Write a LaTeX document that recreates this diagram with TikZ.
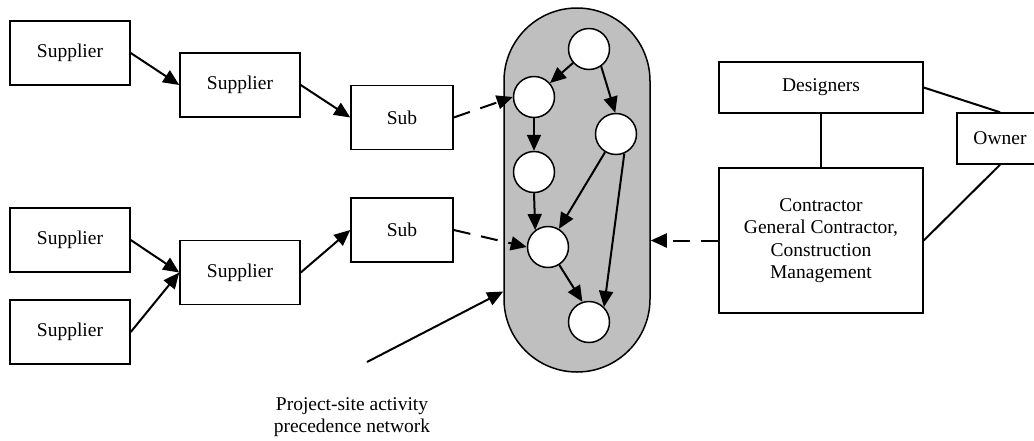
\documentclass[tikz,border=0pt]{standalone}
\usepackage{fontspec}
\setmainfont{Liberation Serif}
\usetikzlibrary{arrows.meta}

\begin{document}
\begin{tikzpicture}[x=1pt,y=-1pt,
  lbl/.style={font=\fontsize{19.5}{22.5}\selectfont, align=center},
  box/.style={lbl, draw, line width=1.5pt, inner sep=0pt},
  supbox/.style={box, minimum width=120pt, minimum height=64pt},
  subbox/.style={box, minimum width=102pt, minimum height=64pt},
  act/.style={circle, draw, fill=white, line width=1.5pt, minimum size=41pt, inner sep=0pt},
  arr/.style={line width=2pt, -{Triangle[length=16pt,width=14pt]}},
  darr/.style={arr, dash pattern=on 17pt off 11pt},
  link/.style={line width=2pt}
]
\useasboundingbox (0,0) rectangle (1034,440);

% supply chain boxes
\node[supbox] (s1) at (70,53) {Supplier};
\node[supbox] (s2) at (240,85) {Supplier};
\node[subbox] (sub1) at (402,117.5) {Sub};
\node[supbox] (s3) at (70,240) {Supplier};
\node[supbox] (s4) at (70,332) {Supplier};
\node[supbox] (s5) at (240,272.5) {Supplier};
\node[subbox] (sub2) at (402,230) {Sub};

% project organisation
\node[box, minimum width=204pt, minimum height=51pt] (des) at (821,87.5) {Designers};
\node[box, minimum width=86pt, minimum height=51pt] (own) at (1000,138.5) {Owner};
\node[box, minimum width=204pt, minimum height=145pt] (con) at (821,240.5)
  {Contractor\\General Contractor,\\Construction\\Management};

% project-site precedence network
\node[draw, fill=black!25, line width=1.5pt, rounded corners=73pt,
      minimum width=146pt, minimum height=364pt] (pill) at (577,190) {};
\node[act] (c1) at (589,49) {};
\node[act] (c2) at (534,97) {};
\node[act] (c3) at (616,134) {};
\node[act] (c4) at (534,172) {};
\node[act] (c5) at (548,247) {};
\node[act] (c6) at (589,322) {};

\node[lbl] (ps) at (352,417) {Project-site activity\\precedence network};
\coordinate (pstail) at (367,362);

% activity precedences
\draw[arr] (c1) -- (c2);
\draw[arr] (c1.-55) -- (c3.92);
\draw[arr] (c2.south) -- (c4.north);
\draw[arr] (c4.south) -- (c5.127);
\draw[arr] (c3) -- (c5);
\draw[arr] (c3.-67) -- (c6.45);
\draw[arr] (c5) -- (c6.108);

% supply flows
\draw[arr] (s1.east) -- (s2.west);
\draw[arr] (s2.east) -- (sub1.west);
\draw[arr] (s3.east) -- (s5.west);
\draw[arr] (s4.east) -- (s5.west);
\draw[arr] (s5.east) -- (sub2.west);
\draw[darr] (sub1.east) -- (c2.west);
\draw[darr] (sub2.east) -- (c5.west);
\draw[darr] (con.west) -- (con.west -| pill.east);
\draw[arr] (pstail) -- (pill.234.4);

% contractual links
\draw[link] (des.south) -- (con.north);
\draw[link] (des.east) -- (own.north);
\draw[link] (own.south) -- (con.east);
\end{tikzpicture}
\end{document}
